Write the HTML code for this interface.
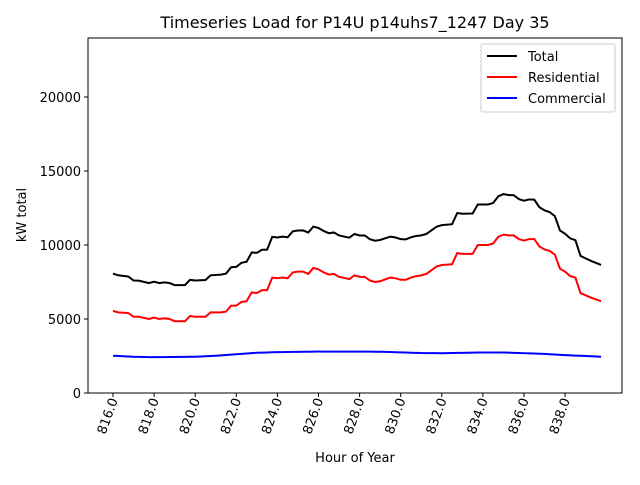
<!DOCTYPE html>
<html><head><meta charset="utf-8"><style>
body{margin:0;background:#fff}
svg text{font-family:"DejaVu Sans","Liberation Sans",sans-serif;fill:#000}
</style></head><body>
<svg id="s" width="640" height="480" xmlns="http://www.w3.org/2000/svg">
<rect x="88" y="38" width="534" height="355" fill="none" stroke="#000" stroke-width="1"/>
<text x="355" y="28" font-size="16" text-anchor="middle">Timeseries Load for P14U p14uhs7_1247  Day 35</text>
<text x="355" y="462" font-size="13" text-anchor="middle">Hour of Year</text>
<text transform="translate(26,215) rotate(-90)" font-size="13" text-anchor="middle">kW total</text>
<g id="g"></g>
<rect x="481" y="44" width="134" height="68" fill="#fff" stroke="#ccc" rx="2"/>
<line x1="487" y1="56" x2="517" y2="56" stroke="#000" stroke-width="2"/>
<text x="528" y="61" font-size="13">Total</text>
<line x1="487" y1="77" x2="517" y2="77" stroke="#f00" stroke-width="2"/>
<text x="528" y="82" font-size="13">Residential</text>
<line x1="487" y1="98" x2="517" y2="98" stroke="#00f" stroke-width="2"/>
<text x="528" y="103" font-size="13">Commercial</text>
</svg>
<script>
var X=h=>113+(h-816)*20.55, Y=v=>393-v*0.0148;
var g=document.getElementById('g'),o='';
for(var v=0;v<=20000;v+=5000){var y=Y(v);o+=`<line x1="84" x2="88" y1="${y}" y2="${y}" stroke="#000"/><text x="81" y="${y+5}" font-size="13" text-anchor="end">${v}</text>`;}
for(var h=816;h<=838;h+=2){var x=X(h);o+=`<line x1="${x}" x2="${x}" y1="393" y2="397" stroke="#000"/><text transform="translate(${x+5},${400}) rotate(-70)" font-size="13" text-anchor="end">${h}.0</text>`;}
var R=[[816,5550],[816.25,5450],[816.75,5400],[817,5150],[817.25,5150],[817.75,5000],[818,5100],[818.25,5000],[818.5,5050],[818.75,5000],[819,4850],[819.5,4850],[819.75,5200],[820,5150],[820.5,5150],[820.75,5450],[821.25,5450],[821.5,5500],[821.75,5900],[822,5900],[822.25,6150],[822.5,6200],[822.75,6800],[823,6750],[823.25,6950],[823.5,6950],[823.75,7800],[824,7750],[824.25,7800],[824.5,7750],[824.75,8150],[825,8200],[825.25,8200],[825.5,8050],[825.75,8450],[826,8350],[826.25,8150],[826.5,8000],[826.75,8050],[827,7850],[827.5,7700],[827.75,7950],[828,7850],[828.25,7850],[828.5,7600],[828.75,7500],[829,7550],[829.5,7800],[829.75,7750],[830,7650],[830.25,7650],[830.5,7800],[830.75,7900],[831,7950],[831.25,8050],[831.5,8300],[831.75,8550],[832,8650],[832.5,8700],[832.75,9450],[833,9400],[833.5,9400],[833.75,10000],[834,10000],[834.25,10000],[834.5,10100],[834.75,10550],[835,10700],[835.25,10650],[835.5,10650],[835.75,10400],[836,10300],[836.25,10400],[836.5,10400],[836.75,9900],[837,9700],[837.25,9600],[837.5,9350],[837.75,8400],[838,8200],[838.25,7900],[838.5,7800],[838.75,6750],[839,6600],[839.25,6450],[839.75,6200]];
var C=h=>{var k=[[816,2520],[817,2450],[818,2420],[820,2450],[821,2520],[822,2620],[823,2720],[824,2760],[826,2800],[829,2790],[831,2700],[832,2690],[834,2740],[835,2740],[837,2640],[838,2560],[839.75,2450]];for(var i=0;i<k.length-1;i++)if(h<=k[i+1][0]){var t=(h-k[i][0])/(k[i+1][0]-k[i][0]);return k[i][1]+t*(k[i+1][1]-k[i][1]);}return 2450;};
var pr=R.map(p=>X(p[0])+','+Y(p[1])).join(' ');
var pt=R.map(p=>X(p[0])+','+Y(p[1]+C(p[0]))).join(' ');
var pc=[];for(var h=816;h<=839.76;h+=0.25)pc.push(X(h)+','+Y(C(h)));
o+=`<polyline points="${pt}" fill="none" stroke="#000" stroke-width="2"/><polyline points="${pr}" fill="none" stroke="#f00" stroke-width="2"/><polyline points="${pc.join(' ')}" fill="none" stroke="#00f" stroke-width="2"/>`;
g.innerHTML=o;
</script>
</body></html>
